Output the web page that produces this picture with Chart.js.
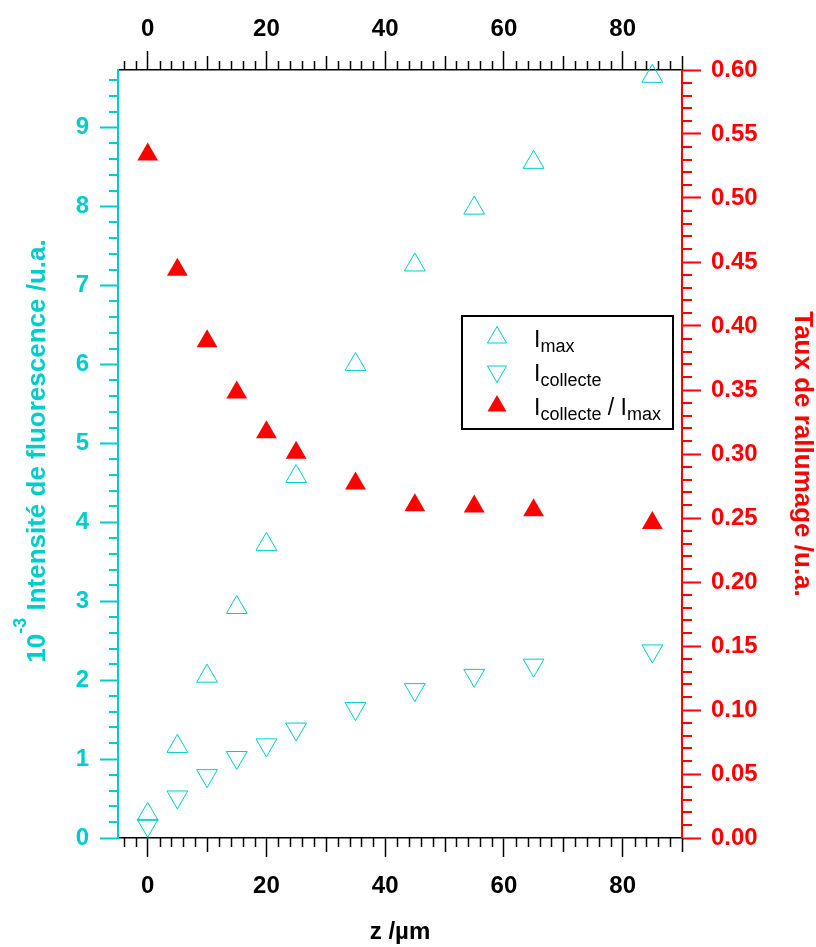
<!DOCTYPE html>
<html>
<head>
<meta charset="utf-8">
<script src="https://cdn.jsdelivr.net/npm/chart.js@4.4.1/dist/chart.umd.min.js"></script>
<style>
html, body { margin: 0; padding: 0; background: #fff; }
</style>
</head>
<body>
<canvas id="fluo" width="816" height="947"></canvas>
<script>
// data
const zValues = [0, 5, 10, 15, 20, 25, 35, 45, 55, 65, 85];
const iMax = [0.30, 1.16, 2.05, 2.92, 3.72, 4.58, 6.00, 7.26, 7.98, 8.56, 9.65];
const iCollecte = [0.16, 0.52, 0.79, 1.02, 1.18, 1.38, 1.64, 1.88, 2.06, 2.19, 2.37];
const tauxRallumage = [0.534, 0.444, 0.388, 0.348, 0.317, 0.301, 0.277, 0.260, 0.259, 0.256, 0.246];

const xTickValues = [0, 20, 40, 60, 80];
const yLeftTicks = [0, 1, 2, 3, 4, 5, 6, 7, 8, 9];
const yRightTicks = [0, 0.05, 0.10, 0.15, 0.20, 0.25, 0.30, 0.35, 0.40, 0.45, 0.50, 0.55, 0.60];

const cyan = '#00cccc';
const red = '#ff0000';
const fam = "'Liberation Sans', Arial, Helvetica, sans-serif";

function pts(ys){
	return zValues.map((z, i) => ({ x: z, y: ys[i] }));
}

// small ticks between the labelled ones
const minorTicks = {
	id: 'minorTicks',
	afterDraw(chart){
		const ctx = chart.ctx;
		const a = chart.chartArea;
		const sx = chart.scales.x, sy = chart.scales.y, sy2 = chart.scales.y2;
		ctx.save();
		ctx.lineWidth = 1.5;
		ctx.strokeStyle = '#000';
		for (let v = -4; v <= 90; v += 2){
			if (v % 20 === 0) continue;
			const len = (v % 10 === 0) ? 14 : 9;
			const px = Math.round(sx.getPixelForValue(v)) + 0.5;
			ctx.beginPath();
			ctx.moveTo(px, a.bottom); ctx.lineTo(px, a.bottom + len);
			ctx.moveTo(px, a.top); ctx.lineTo(px, a.top - len);
			ctx.stroke();
		}
		ctx.lineWidth = 2;
		ctx.strokeStyle = cyan;
		for (let i = 1; i <= 48; i++){
			if (i % 5 === 0) continue;
			const py = Math.round(sy.getPixelForValue(i * 0.2));
			ctx.beginPath();
			ctx.moveTo(a.left, py); ctx.lineTo(a.left - 9, py);
			ctx.stroke();
		}
		ctx.strokeStyle = red;
		for (let i = 1; i < 60; i++){
			if (i % 5 === 0) continue;
			const py = Math.round(sy2.getPixelForValue(i * 0.01));
			ctx.beginPath();
			ctx.moveTo(a.right, py); ctx.lineTo(a.right + 10, py);
			ctx.stroke();
		}
		ctx.restore();
	}
};

// left title with the 10^-3 exponent
const leftTitle = {
	id: 'leftTitle',
	afterDraw(chart){
		const ctx = chart.ctx;
		const a = chart.chartArea;
		const big = 'bold 26px ' + fam;
		const small = 'bold 18px ' + fam;
		const p1 = '10', p2 = '-3', p3 = ' Intensité de fluorescence /u.a.';
		ctx.save();
		ctx.font = big;
		const w1 = ctx.measureText(p1).width;
		const w3 = ctx.measureText(p3).width;
		ctx.font = small;
		const w2 = ctx.measureText(p2).width;
		const total = w1 + w2 + w3;
		ctx.translate(45, (a.top + a.bottom) / 2 - 3);
		ctx.rotate(-Math.PI / 2);
		ctx.fillStyle = cyan;
		ctx.textBaseline = 'alphabetic';
		ctx.textAlign = 'left';
		let x = -total / 2;
		ctx.font = big;
		ctx.fillText(p1, x, 0);
		x += w1;
		ctx.font = small;
		ctx.fillText(p2, x, -19);
		x += w2;
		ctx.font = big;
		ctx.fillText(p3, x, 0);
		ctx.restore();
	}
};

// boxed legend with subscripts
const boxLegend = {
	id: 'boxLegend',
	afterDraw(chart){
		const ctx = chart.ctx;
		const bx = 462, by = 316, bw = 211, bh = 113;
		ctx.save();
		ctx.fillStyle = '#fff';
		ctx.fillRect(bx, by, bw, bh);
		ctx.lineWidth = 2;
		ctx.strokeStyle = '#000';
		ctx.strokeRect(bx, by, bw, bh);

		const mx = 497, r = 11;
		const rows = [337.5, 371.5, 406];
		function tri(cy, down, fill){
			const s = down ? -1 : 1;
			ctx.beginPath();
			ctx.moveTo(mx, cy - s * r);
			ctx.lineTo(mx + 0.866 * r, cy + s * r / 2);
			ctx.lineTo(mx - 0.866 * r, cy + s * r / 2);
			ctx.closePath();
			if (fill){ ctx.fillStyle = red; ctx.fill(); }
			else { ctx.lineWidth = 1; ctx.strokeStyle = cyan; ctx.stroke(); }
		}
		tri(rows[0], false, false);
		tri(rows[1], true, false);
		tri(rows[2], false, true);

		const big = '23px ' + fam, small = '18px ' + fam;
		function label(parts, cy){
			let x = 534;
			const base = cy + 9;
			ctx.fillStyle = '#000';
			ctx.textBaseline = 'alphabetic';
			parts.forEach(p => {
				ctx.font = p[1] ? small : big;
				ctx.fillText(p[0], x, p[1] ? base + 5 : base);
				x += ctx.measureText(p[0]).width;
			});
		}
		label([['I', 0], ['max', 1]], rows[0]);
		label([['I', 0], ['collecte', 1]], rows[1]);
		label([['I', 0], ['collecte', 1], [' / I', 0], ['max', 1]], rows[2]);
		ctx.restore();
	}
};

const ctx = document.getElementById('fluo').getContext('2d');
const tickFont = { family: fam, size: 24, weight: 'bold' };

new Chart(ctx, {
	type: 'scatter',
	data: {
		datasets: [
			{
				label: 'Imax',
				data: pts(iMax),
				yAxisID: 'y',
				pointStyle: 'triangle',
				pointRadius: 12,
				pointBorderWidth: 1,
				pointBorderColor: cyan,
				pointBackgroundColor: 'rgba(0,0,0,0)',
				clip: false,
			},
			{
				label: 'Icollecte',
				data: pts(iCollecte),
				yAxisID: 'y',
				pointStyle: 'triangle',
				pointRotation: 180,
				pointRadius: 12,
				pointBorderWidth: 1,
				pointBorderColor: cyan,
				pointBackgroundColor: 'rgba(0,0,0,0)',
				clip: false,
			},
			{
				label: 'Icollecte / Imax',
				data: pts(tauxRallumage),
				yAxisID: 'y2',
				pointStyle: 'triangle',
				pointRadius: 12,
				pointBorderWidth: 0,
				pointBorderColor: red,
				pointBackgroundColor: red,
				clip: false,
			},
		],
	},
	options: {
		responsive: false,
		animation: false,
		events: [],
		layout: { padding: 0 },
		plugins: { legend: { display: false }, tooltip: { enabled: false } },
		scales: {
			x: {
				type: 'linear', position: 'bottom', min: -5, max: 90,
				afterBuildTicks: s => { s.ticks = xTickValues.map(v => ({ value: v })); },
				afterFit: s => { s.height = 109; },
				grid: { drawOnChartArea: false, tickLength: 19, tickColor: '#000', tickWidth: 1.5 },
				border: { color: '#000', width: 1.5 },
				ticks: { color: '#000', font: tickFont, padding: 15, maxRotation: 0, autoSkip: false },
				title: { display: true, text: 'z /µm', color: '#000', font: { family: fam, size: 24, weight: 'bold', lineHeight: 1.2 }, padding: { top: 0, bottom: 0 } },
			},
			x2: {
				type: 'linear', position: 'top', min: -5, max: 90,
				afterBuildTicks: s => { s.ticks = xTickValues.map(v => ({ value: v })); },
				afterFit: s => { s.height = 70; },
				grid: { drawOnChartArea: false, tickLength: 19, tickColor: '#000', tickWidth: 1.5 },
				border: { color: '#000', width: 1.5 },
				ticks: { color: '#000', font: tickFont, padding: 7, maxRotation: 0, autoSkip: false },
			},
			y: {
				type: 'linear', position: 'left', min: 0, max: 9.73,
				afterBuildTicks: s => { s.ticks = yLeftTicks.map(v => ({ value: v })); },
				afterFit: s => { s.width = 118; },
				grid: { drawOnChartArea: false, tickLength: 18, tickColor: cyan, tickWidth: 2 },
				border: { color: cyan, width: 2 },
				ticks: { color: cyan, font: tickFont, padding: 11, autoSkip: false },
			},
			y2: {
				type: 'linear', position: 'right', min: 0, max: 0.6,
				afterBuildTicks: s => { s.ticks = yRightTicks.map(v => ({ value: v })); },
				afterFit: s => { s.width = 134; },
				grid: { drawOnChartArea: false, tickLength: 19, tickColor: red, tickWidth: 2 },
				border: { color: red, width: 2 },
				ticks: { color: red, font: tickFont, padding: 10, autoSkip: false, callback: v => Number(v).toFixed(2) },
				title: { display: true, text: 'Taux de rallumage /u.a.', color: red, font: { family: fam, size: 26, weight: 'bold', lineHeight: 1.05 }, padding: { top: 0, bottom: 0 } },
			},
		},
	},
	plugins: [minorTicks, leftTitle, boxLegend],
});
</script>
</body>
</html>
